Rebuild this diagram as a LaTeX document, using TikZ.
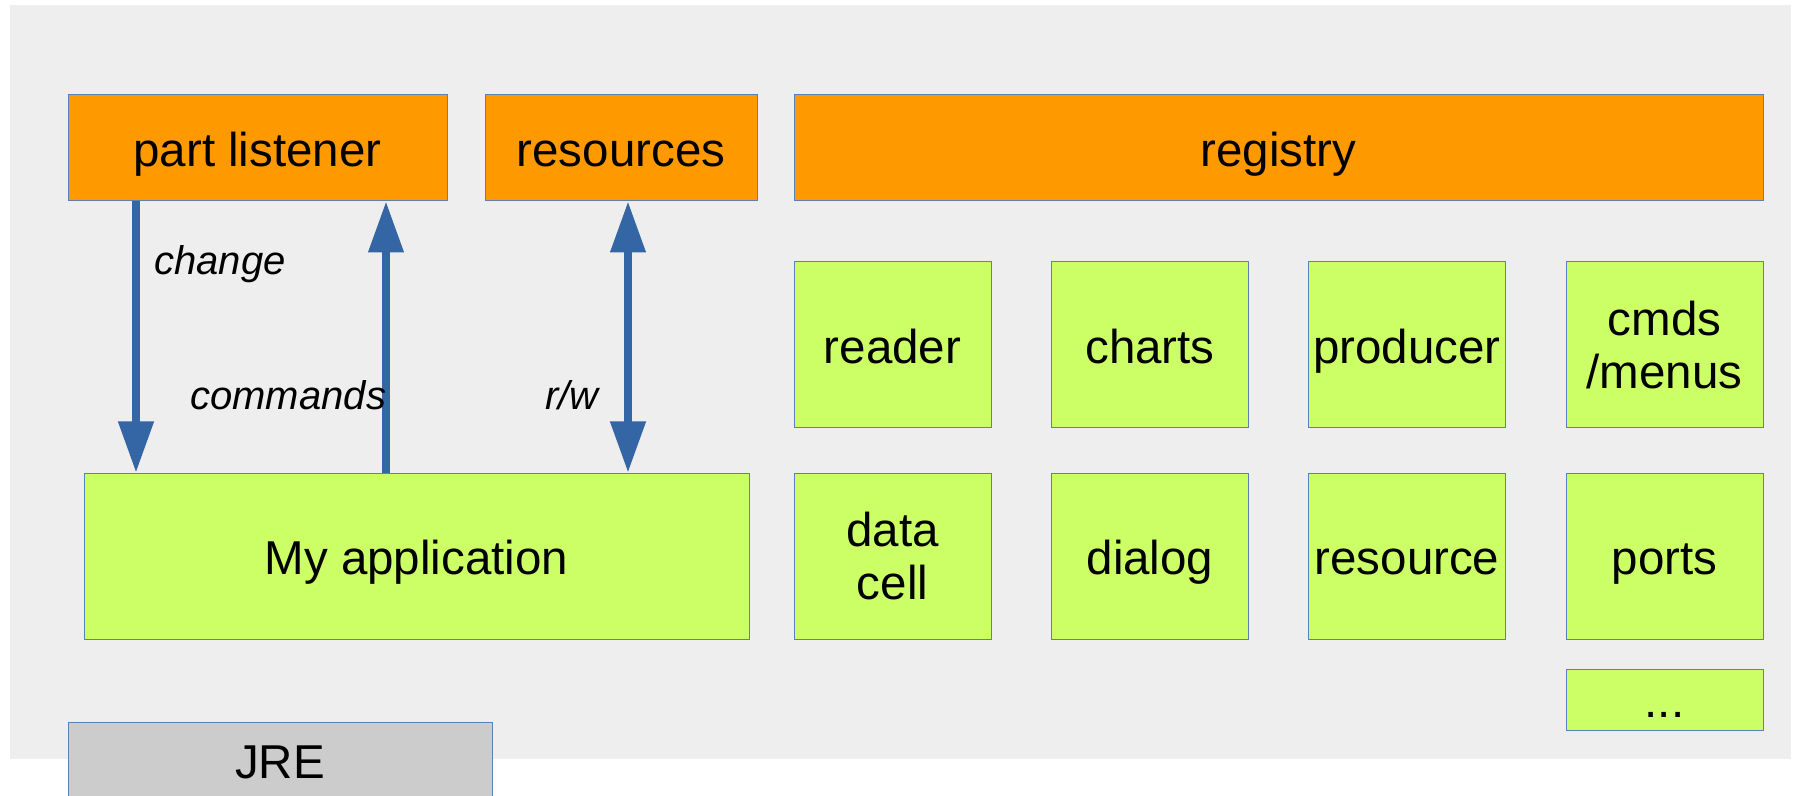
\documentclass[tikz,border=0pt]{standalone}
\usepackage{fontspec}
\setmainfont{Liberation Sans}
\usetikzlibrary{arrows.meta}

\definecolor{bggray}{HTML}{EEEEEE}
\definecolor{frame}{HTML}{5A80BC}
\definecolor{flowblue}{HTML}{3465A4}
\definecolor{partorange}{HTML}{FF9900}
\definecolor{compgreen}{HTML}{CCFF66}
\definecolor{jregray}{HTML}{CCCCCC}

\tikzset{
    blk/.style={draw=frame, line width=0.5pt, inner sep=0pt, align=center,
        font=\fontsize{23.75}{26.5}\selectfont},
    oneline/.style={text height=21.4pt, text depth=3.3pt},
    part/.style={blk, oneline, fill=partorange, minimum height=53pt},
    comp/.style={blk, fill=compgreen, minimum width=98.5pt, minimum height=83pt},
    lbl/.style={inner sep=0pt, font=\fontsize{20}{24}\selectfont\itshape},
    flow/.style={draw=flowblue, line width=3.75pt,
        >={Triangle[length=25.5pt, width=17pt]}},
}

\begin{document}
\begin{tikzpicture}[x=0.5pt, y=-0.5pt]
    \useasboundingbox (0,0) rectangle (1804,796);
    \fill[bggray] (10,5) rectangle (1791,759);

    % top row
    \node[part, minimum width=189.5pt] (pl) at (257.5,148) {part listener};
    \node[part, minimum width=136pt] (res) at (621,148) {resources};
    \node[part, minimum width=484.5pt] (reg) at (1278.5,148) {registry};

    % application
    \node[comp, oneline, minimum width=332.5pt] (app) at (416.5,556) {My application};

    % registry contents
    \node[comp, oneline] (reader) at (892.5,345) {reader};
    \node[comp, oneline] (charts) at (1150,345) {charts};
    \node[comp, oneline] (producer) at (1407,345) {producer};
    \node[comp] (cmds) at (1664.5,345) {cmds\\/menus};
    \node[comp] (cell) at (892.5,556) {data\\cell};
    \node[comp, oneline] (dialog) at (1150,556) {dialog};
    \node[comp, oneline] (resource) at (1407,556) {resource};
    \node[comp, oneline] (ports) at (1664.5,556) {ports};
    \node[comp, oneline, minimum height=30.5pt] (more) at (1664.5,699.5) {...};

    \node[blk, oneline, fill=jregray, minimum width=212pt, minimum height=38pt] (jre) at (280,760) {JRE};

    % connectors
    \coordinate (xc) at (136,0);
    \coordinate (xm) at (386,0);
    \coordinate (xr) at (628,0);
    \draw[flow, ->] (pl.south -| xc) -- (app.north -| xc);
    \draw[flow, ->] (app.north -| xm) -- (pl.south -| xm);
    \draw[flow, <->] (res.south -| xr) -- (app.north -| xr);

    \node[lbl, anchor=base west] (lchange) at (154,275) {change};
    \node[lbl, anchor=base west] (lcmd) at (190,410) {commands};
    \node[lbl, anchor=base west] (lrw) at (545,410) {r/w};
\end{tikzpicture}
\end{document}
